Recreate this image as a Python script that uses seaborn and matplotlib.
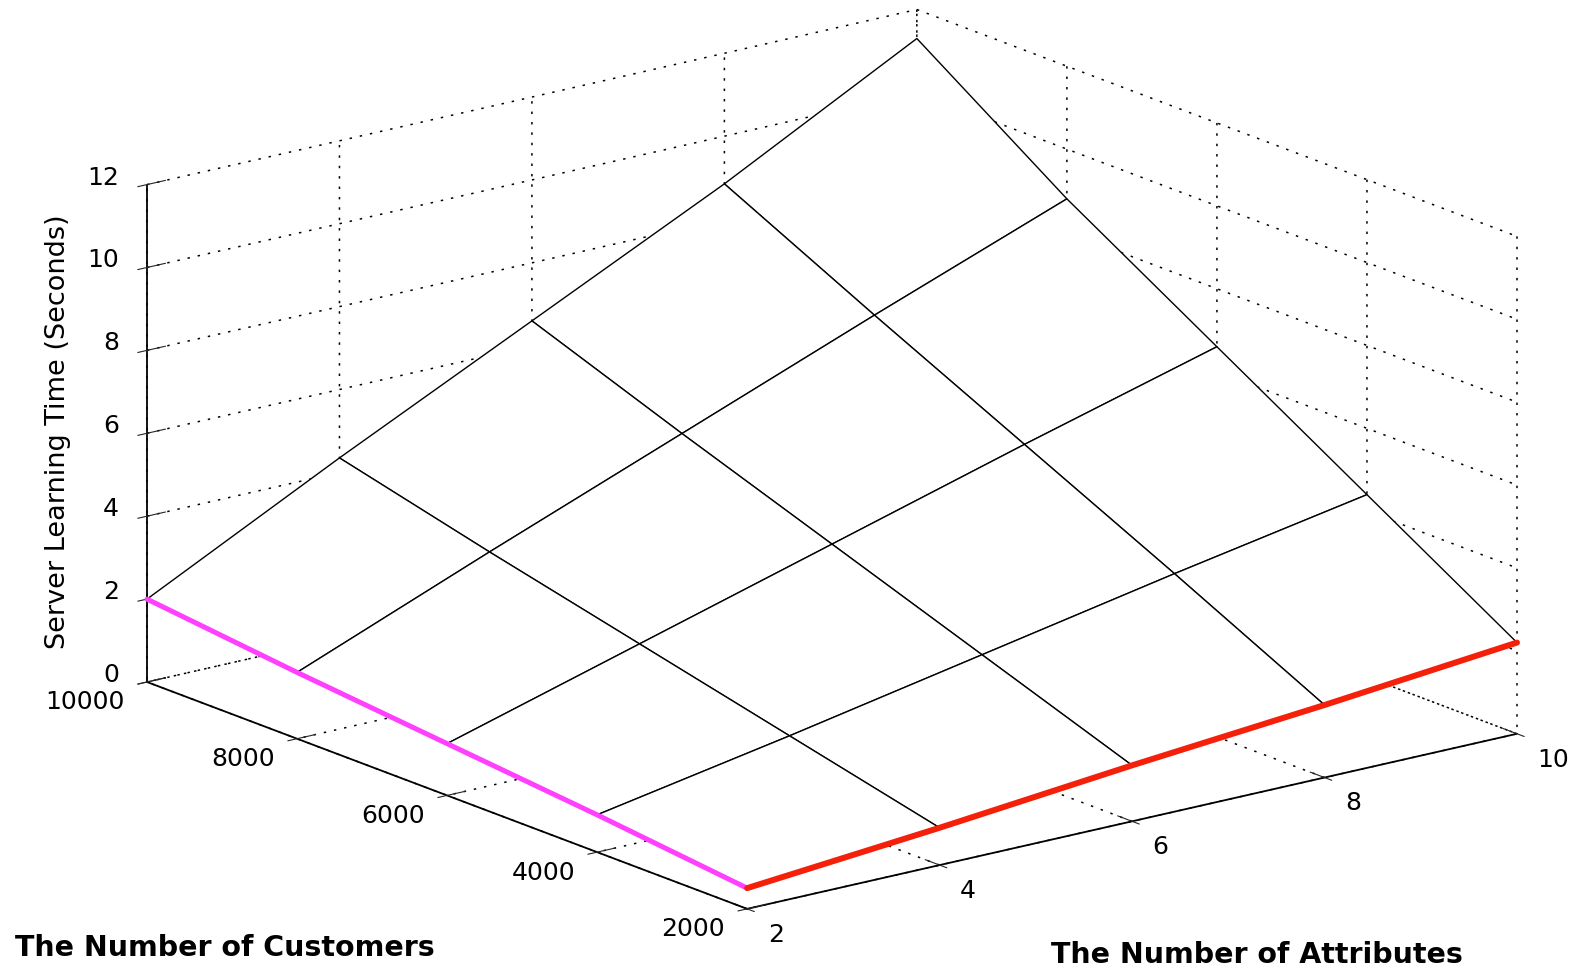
import numpy as np
import matplotlib
matplotlib.use("Agg")
import matplotlib.pyplot as plt
import seaborn as sns
from mpl_toolkits.mplot3d import proj3d

# ---------------------------
# Data (read off the reference mesh)
# ---------------------------
attributes = [2, 4, 6, 8, 10]
customers = [2000, 4000, 6000, 8000, 10000]
# server learning time in seconds, rows = customers, cols = attributes
learn_time = [
    [0.5, 0.9, 1.35, 1.75, 2.2],
    [0.9, 1.75, 2.65, 3.55, 4.4],
    [1.25, 2.6, 3.95, 5.3, 6.6],
    [1.6, 3.45, 5.25, 7.05, 8.8],
    [2.0, 4.35, 6.6, 8.85, 11.3],
]
z_ticks = [0, 2, 4, 6, 8, 10, 12]

sns.set_style("white")
plt.rcParams["font.family"] = ["DejaVu Sans"]

A, C = np.meshgrid(attributes, customers)
Z = np.array(learn_time)

W, H = 1585, 970
fig = plt.figure(figsize=(W / 100, H / 100), dpi=100)
ax = fig.add_axes([-0.3, -0.5, 1.6, 2.0], projection="3d", proj_type="ortho",
                  computed_zorder=False)
ax.view_init(elev=17.05, azim=-127.8)
box = (1.0, 1.005, 0.534)
ax.set_box_aspect(box)

# mesh with white faces so the back grid is hidden behind it
ax.plot_surface(A, C, Z, color="white", edgecolor="black", linewidth=1.0,
                shade=False, rstride=1, cstride=1, zorder=1)
ax.plot(A[:, 0], C[:, 0], Z[:, 0], color="#ff40ff", lw=3.6, zorder=3)
ax.plot(A[0, :], C[0, :], Z[0, :], color="#f5200a", lw=4.3, zorder=3)

ax.set_xlim(2, 10)
ax.set_ylim(2000, 10000)
ax.set_zlim(0, 12)
ax.set_xticks(attributes)
ax.set_yticks(customers)
ax.set_zticks(z_ticks)
ax.tick_params(axis="x", labelsize=18, labelcolor="black", pad=17)
ax.tick_params(axis="y", labelsize=18, labelcolor="black", pad=13)
ax.tick_params(axis="z", labelsize=18, labelcolor="black", pad=7)

# tick label anchoring like the original figure
for t in ax.xaxis.get_major_ticks():
    t.label1.set_ha("left")
    t.label1.set_va("center")
for t in ax.yaxis.get_major_ticks():
    t.label1.set_ha("right")
    t.label1.set_va("center")
for t in ax.zaxis.get_major_ticks():
    t.label1.set_ha("right")
    t.label1.set_va("baseline")

for axis in (ax.xaxis, ax.yaxis, ax.zaxis):
    axis.set_pane_color((1, 1, 1, 0))
    axis.pane.set_edgecolor((1, 1, 1, 0))
    axis.line.set_color("black")
    axis.line.set_linewidth(1.3)
    axis._axinfo["grid"].update(color="black", linewidth=1.1, linestyle=(0, (1.6, 5.2)))
    axis._axinfo["tick"].update(color="black", outward_factor=0.3, inward_factor=0.15)

# ---------------------------
# Fit the projected box to the reference layout
# ---------------------------
def to_px(x, y, z):
    xs, ys, _ = proj3d.proj_transform(x, y, z, ax.get_proj())
    return ax.transData.transform((xs, ys))

fig.canvas.draw()
span = to_px(10, 2000, 0)[0] - to_px(2, 10000, 0)[0]
ax.set_box_aspect(box, zoom=1370 / span)
fig.canvas.draw()
p = to_px(2, 10000, 0)
pos = ax.get_position(original=True)
ax.set_position([pos.x0 + (147 - p[0]) / W, pos.y0 + ((H - 683) - p[1]) / H,
                 pos.width, pos.height])

fig.text(15 / W, 1 - 948 / H, "The Number of Customers", fontsize=20.5,
         fontweight="bold", color="black", ha="left", va="center")
fig.text(1051 / W, 1 - 955 / H, "The Number of Attributes", fontsize=20.5,
         fontweight="bold", color="black", ha="left", va="center")
fig.text(58 / W, 1 - 432 / H, "Server Learning Time (Seconds)", fontsize=19.5,
         color="black", rotation=90, ha="center", va="center")

fig.savefig("out.png", dpi=100)
